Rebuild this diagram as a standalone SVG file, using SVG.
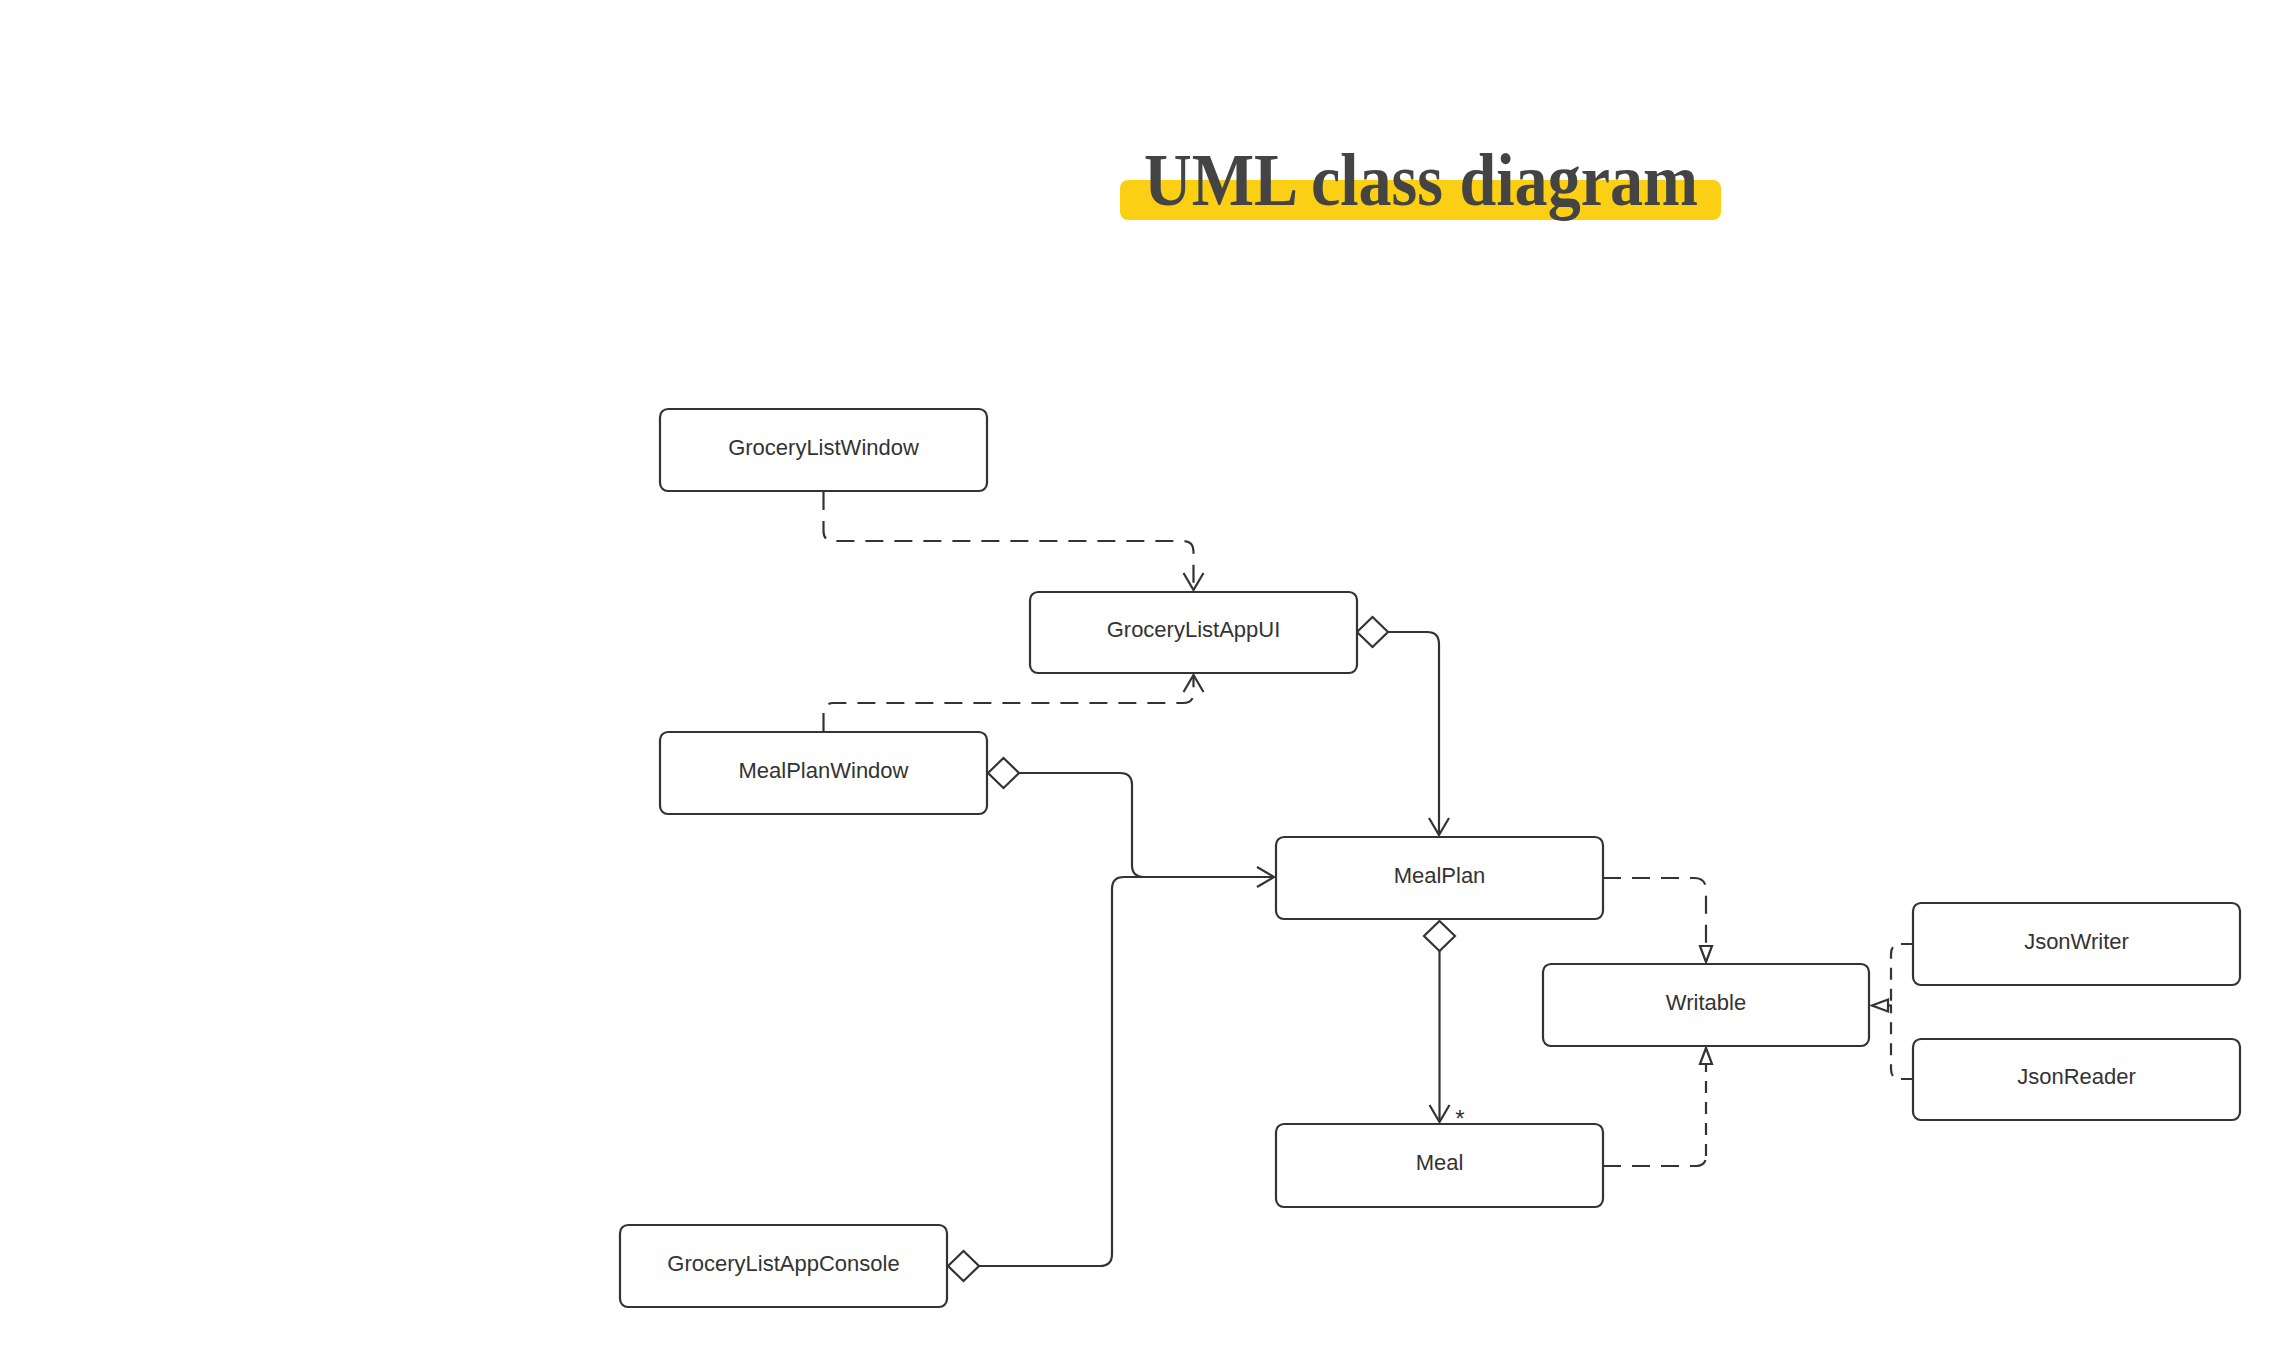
<svg xmlns="http://www.w3.org/2000/svg" width="2280" height="1348" viewBox="0 0 2280 1348">
<style>
.box{fill:#ffffff;stroke:#333333;stroke-width:2.2}
.lbl{font-family:"Liberation Sans",Arial,sans-serif;font-size:22px;fill:#333333;text-anchor:middle}
.ln{fill:none;stroke:#333333;stroke-width:2.2}
.dash{stroke-dasharray:18 11}
.dash2{stroke-dasharray:12 9}
.dia{fill:#ffffff;stroke:#333333;stroke-width:2.2}
.tri{fill:#ffffff;stroke:#333333;stroke-width:2.2}
</style>
<defs>
<marker id="open" viewBox="-20 -12 22 24" refX="0" refY="0" markerWidth="22" markerHeight="24" markerUnits="userSpaceOnUse" orient="auto">
<path d="M-17,-10 L0,0 L-17,10" fill="none" stroke="#333333" stroke-width="2.2"/>
</marker>
</defs>
<rect width="2280" height="1348" fill="#ffffff"/>
<g id="title">
<rect x="1120" y="180" width="601" height="40" rx="8" fill="#FBCF14"/>
<text x="1421" y="205" font-family="'Liberation Serif','Times New Roman',serif" font-weight="bold" font-size="74" fill="#444444" text-anchor="middle" textLength="554" lengthAdjust="spacingAndGlyphs">UML class diagram</text>
</g>
<g id="connectors">
<path class="ln dash" d="M823.5,492 V531 Q823.5,541 833.5,541 H1183 Q1193.5,541 1193.5,551 V590" marker-end="url(#open)"/>
<path class="ln dash" d="M823.5,731 V713 Q823.5,703 833.5,703 H1183 Q1193.5,703 1193.5,693 V675" marker-end="url(#open)"/>
<polygon class="dia" points="1357,632 1372.5,617 1388,632 1372.5,647"/>
<path class="ln" d="M1388,632 H1427 Q1439,632 1439,644 V835" marker-end="url(#open)"/>
<polygon class="dia" points="988,773 1003.5,758 1019,773 1003.5,788"/>
<path class="ln" d="M1019,773 H1120 Q1132,773 1132,785 V865 Q1132,877 1144,877 H1274" marker-end="url(#open)"/>
<polygon class="dia" points="948,1266 963.5,1251 979,1266 963.5,1281"/>
<path class="ln" d="M979,1266 H1100 Q1112,1266 1112,1254 V889 Q1112,877 1124,877 H1274"/>
<polygon class="dia" points="1439.5,921 1455,936 1439.5,951 1424,936"/>
<path class="ln" d="M1439.5,951 V1122" stroke-width="2.8" marker-end="url(#open)"/>
<text x="1460" y="1127" font-family="'Liberation Sans',Arial,sans-serif" font-size="24" fill="#333333" text-anchor="middle">*</text>
<path class="ln dash" d="M1603,878 H1694 Q1706,878 1706,890 V946"/>
<polygon class="tri" points="1706,962 1700,946 1712,946"/>
<path class="ln dash" d="M1603,1166 H1696 Q1706,1166 1706,1156"/>
<path class="ln dash2" d="M1706,1156 V1064"/>
<polygon class="tri" points="1706,1048 1700,1064 1712,1064"/>
<path class="ln dash2" d="M1913,944 H1901 Q1891,944 1891,954 V1005.5"/>
<path class="ln dash2" d="M1913,1079 H1901 Q1891,1079 1891,1069 V1005.5"/>
<path class="ln" d="M1892,1005.5 H1888"/>
<polygon class="tri" points="1872,1005.5 1888,999.5 1888,1011.5"/>
</g>
<g id="node-GroceryListWindow"><rect class="box" x="660" y="409" width="327" height="82" rx="8"/><text class="lbl" x="823.5" y="455">GroceryListWindow</text></g>
<g id="node-GroceryListAppUI"><rect class="box" x="1030" y="592" width="327" height="81" rx="8"/><text class="lbl" x="1193.5" y="637">GroceryListAppUI</text></g>
<g id="node-MealPlanWindow"><rect class="box" x="660" y="732" width="327" height="82" rx="8"/><text class="lbl" x="823.5" y="778">MealPlanWindow</text></g>
<g id="node-MealPlan"><rect class="box" x="1276" y="837" width="327" height="82" rx="8"/><text class="lbl" x="1439.5" y="883">MealPlan</text></g>
<g id="node-Writable"><rect class="box" x="1543" y="964" width="326" height="82" rx="8"/><text class="lbl" x="1706" y="1010">Writable</text></g>
<g id="node-JsonWriter"><rect class="box" x="1913" y="903" width="327" height="82" rx="8"/><text class="lbl" x="2076.5" y="949">JsonWriter</text></g>
<g id="node-JsonReader"><rect class="box" x="1913" y="1039" width="327" height="81" rx="8"/><text class="lbl" x="2076.5" y="1084">JsonReader</text></g>
<g id="node-Meal"><rect class="box" x="1276" y="1124" width="327" height="83" rx="8"/><text class="lbl" x="1439.5" y="1170">Meal</text></g>
<g id="node-GroceryListAppConsole"><rect class="box" x="620" y="1225" width="327" height="82" rx="8"/><text class="lbl" x="783.5" y="1271">GroceryListAppConsole</text></g>
</svg>
